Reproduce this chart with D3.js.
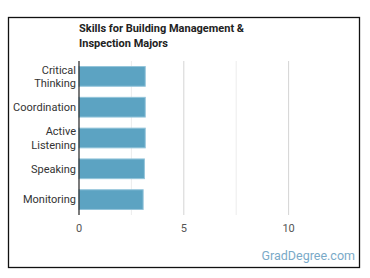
<!DOCTYPE html>
<html>
<head>
<meta charset="utf-8">
<script src="https://cdn.jsdelivr.net/npm/d3@7"></script>
<style>
  body { margin: 0; background: #fff; }
  svg { display: block; font-family: Roboto, "Noto Sans", sans-serif; }
</style>
</head>
<body>
<div id="chart"></div>
<script>
// Chart data
const skills = ["Critical Thinking", "Coordination", "Active Listening", "Speaking", "Monitoring"];
const scores = [3.16, 3.16, 3.16, 3.12, 3.06];
const xTicks = [0, 5, 10];
const gridValues = [2.5, 5, 7.5, 10];

const width = 370;
const height = 278;
const margin = {top: 61, right: 29, bottom: 63, left: 79};

const svg = d3.select("#chart")
  .append("svg")
  .attr("width", width)
  .attr("height", height);

// outer frame
svg.append("rect")
  .attr("x", 8.5)
  .attr("y", 17.5)
  .attr("width", 351)
  .attr("height", 250)
  .attr("fill", "#fff")
  .attr("stroke", "#111")
  .attr("stroke-width", 1.3);

const x = d3.scaleLinear()
  .domain([0, 12.5])
  .range([margin.left, width - margin.right]);

const y = d3.scaleBand()
  .domain(skills)
  .range([margin.top, height - margin.bottom])
  .paddingInner(0.36)
  .paddingOuter(0.18);

// gridlines
svg.append("g")
  .selectAll("line")
  .data(gridValues)
  .enter()
  .append("line")
  .attr("x1", d => x(d))
  .attr("x2", d => x(d))
  .attr("y1", margin.top)
  .attr("y2", height - margin.bottom)
  .attr("stroke", d => d % 5 === 0 ? "#d4d4d4" : "#ececec")
  .attr("stroke-width", 1);

// bars
svg.append("g")
  .selectAll("rect")
  .data(skills)
  .enter()
  .append("rect")
  .attr("x", x(0))
  .attr("y", d => y(d))
  .attr("width", (d, i) => x(scores[i]) - x(0))
  .attr("height", y.bandwidth())
  .attr("fill", "#5ca3c2")
  .attr("stroke", "#93c4da")
  .attr("stroke-width", 1);

// y axis line
svg.append("line")
  .attr("x1", x(0))
  .attr("x2", x(0))
  .attr("y1", margin.top)
  .attr("y2", height - margin.bottom)
  .attr("stroke", "#222")
  .attr("stroke-width", 1.2);

// category labels, wrapped at the space for two-word names
const labels = svg.append("g")
  .selectAll("text")
  .data(skills)
  .enter()
  .append("text")
  .attr("x", x(0) - 3)
  .attr("y", d => y(d) + y.bandwidth() / 2)
  .attr("text-anchor", "end")
  .attr("font-size", 11)
  .attr("fill", "#333");

labels.each(function(d) {
  const words = d.split(" ");
  const t = d3.select(this);
  if (words.length === 1) {
    t.append("tspan").attr("dy", "0.35em").text(d);
  } else {
    t.append("tspan").attr("x", x(0) - 3).attr("dy", "-0.25em").text(words[0]);
    t.append("tspan").attr("x", x(0) - 3).attr("dy", "1.25em").text(words.slice(1).join(" "));
  }
});

// x tick labels
svg.append("g")
  .selectAll("text")
  .data(xTicks)
  .enter()
  .append("text")
  .attr("x", d => x(d))
  .attr("y", 232)
  .attr("text-anchor", "middle")
  .attr("font-size", 11)
  .attr("fill", "#555")
  .text(d => d);

// title
svg.append("text")
  .attr("x", 79)
  .attr("y", 32)
  .attr("font-size", 11)
  .attr("font-weight", "bold")
  .attr("fill", "#222")
  .selectAll("tspan")
  .data(["Skills for Building Management &", "Inspection Majors"])
  .enter()
  .append("tspan")
  .attr("x", 79)
  .attr("dy", (d, i) => i === 0 ? 0 : 14.5)
  .text(d => d);

// watermark
svg.append("text")
  .attr("x", 355)
  .attr("y", 260)
  .attr("text-anchor", "end")
  .attr("font-size", 12.5)
  .attr("fill", "#7aaac8")
  .text("GradDegree.com");
</script>
</body>
</html>
